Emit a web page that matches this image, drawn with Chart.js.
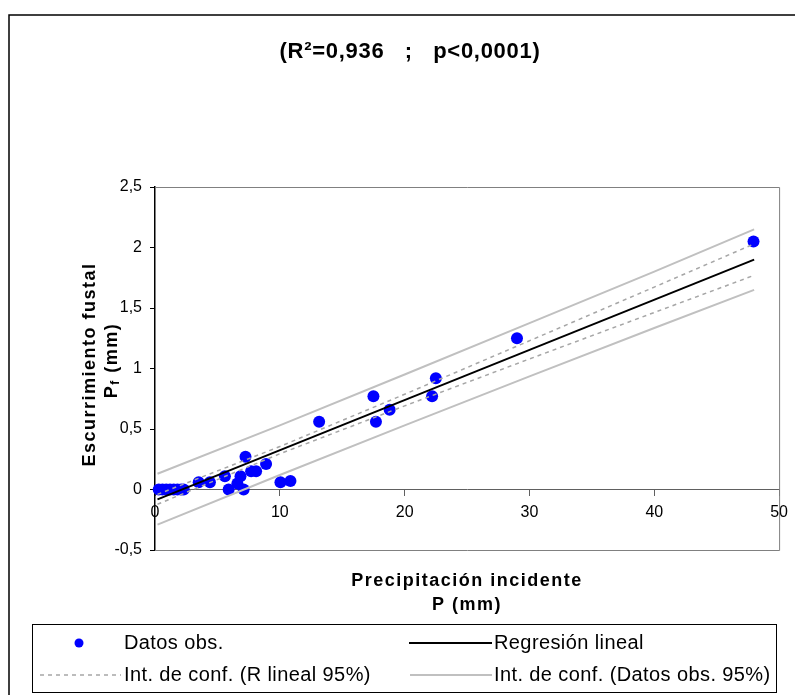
<!DOCTYPE html>
<html>
<head>
<meta charset="utf-8">
<title>Escurrimiento fustal vs precipitación incidente</title>
<script src="https://cdn.jsdelivr.net/npm/chart.js@4.4.1/dist/chart.umd.min.js"></script>
<style>
  body { margin: 0; background: #fff; }
  canvas { display: block; }
</style>
</head>
<body>
<canvas id="chart" width="795" height="695"></canvas>
<script>
// Observed events: incident rainfall P (mm) and stemflow Pf (mm)
const obsX = [0.3, 0.6, 0.9, 1.2, 1.5, 1.8, 2.1, 2.3,
              3.5, 4.4, 5.6, 5.9, 6.6, 6.85, 7.1, 7.25, 7.7, 8.1, 8.9,
              10.05, 10.85, 13.15, 17.5, 17.7, 18.8, 22.2, 22.5, 29.0, 47.95];
const obsY = [0, 0, 0, 0, 0, 0, 0, 0,
              0.06, 0.06, 0.11, 0, 0.05, 0.11, 0, 0.27, 0.15, 0.15, 0.21,
              0.06, 0.07, 0.56, 0.77, 0.56, 0.66, 0.77, 0.92, 1.25, 2.05];

// Fitted regression line
const regX = [0.2, 48];
const regY = [-0.082, 1.90];

// 95% bands read at a few P values
const bandX = [0.2, 10, 20, 30, 40, 48];
const confUpper = [-0.04, 0.355, 0.787, 1.229, 1.673, 2.03];
const confLower = [-0.122, 0.295, 0.691, 1.079, 1.463, 1.77];
const predUpper = [0.13, 0.53, 0.95, 1.375, 1.80, 2.15];
const predLower = [-0.29, 0.12, 0.53, 0.935, 1.335, 1.65];

// Tick labels (decimal comma)
const xTickLabels = ['0', '10', '20', '30', '40', '50'];
const yTickLabels = ['-0,5', '0', '0,5', '1', '1,5', '2', '2,5'];

const FONT = '"Liberation Sans", Arial, sans-serif';

function toPoints(xs, ys) {
    return xs.map((x, i) => ({ x: x, y: ys[i] }));
}

// Frame, titles and the boxed two-column legend
const decorPlugin = {
    id: 'decor',
    beforeDatasetsDraw(chart) {
        const { ctx, chartArea: a } = chart;
        ctx.save();
        ctx.strokeStyle = '#808080';
        ctx.lineWidth = 1;
        ctx.beginPath();
        ctx.moveTo(a.left, a.top + 0.5);
        ctx.lineTo(a.right + 0.5, a.top + 0.5);
        ctx.lineTo(a.right + 0.5, a.bottom + 0.5);
        ctx.lineTo(a.left, a.bottom + 0.5);
        ctx.stroke();
        ctx.restore();
    },
    afterDraw(chart) {
        const { ctx, chartArea: a } = chart;
        const ds = chart.data.datasets;
        ctx.save();

        // outer border
        ctx.strokeStyle = '#000';
        ctx.lineWidth = 1.5;
        ctx.beginPath();
        ctx.moveTo(9, 695);
        ctx.lineTo(9, 15);
        ctx.lineTo(795, 15);
        ctx.stroke();

        // title
        ctx.fillStyle = '#000';
        ctx.textAlign = 'center';
        ctx.textBaseline = 'middle';
        ctx.font = 'bold 22px ' + FONT;
        ctx.letterSpacing = '0.7px';
        ctx.fillText('(R²=0,936   ;   p<0,0001)', 410, 52);

        // x axis title
        const cx = (a.left + a.right) / 2;
        ctx.font = 'bold 18px ' + FONT;
        ctx.letterSpacing = '1.5px';
        ctx.fillText('Precipitación incidente', cx, 581);
        ctx.fillText('P (mm)', cx, 605);

        // y axis title, rotated, with subscript f
        const cy = (a.top + a.bottom) / 2;
        ctx.save();
        ctx.translate(90, cy - 4);
        ctx.rotate(-Math.PI / 2);
        ctx.fillText('Escurrimiento fustal', 0, 0);
        ctx.restore();

        ctx.save();
        ctx.translate(112, cy - 8);
        ctx.rotate(-Math.PI / 2);
        ctx.textAlign = 'left';
        const wP = ctx.measureText('P').width;
        ctx.font = 'bold 12px ' + FONT;
        const wF = ctx.measureText('f').width;
        ctx.font = 'bold 18px ' + FONT;
        const wRest = ctx.measureText(' (mm)').width;
        let x0 = -(wP + wF + wRest) / 2;
        ctx.fillText('P', x0, 0);
        ctx.font = 'bold 12px ' + FONT;
        ctx.fillText('f', x0 + wP, 4);
        ctx.font = 'bold 18px ' + FONT;
        ctx.fillText(' (mm)', x0 + wP + wF, 0);
        ctx.restore();

        // legend box
        ctx.strokeStyle = '#000';
        ctx.lineWidth = 1;
        ctx.strokeRect(32.5, 624.5, 744, 68);

        ctx.font = '20px ' + FONT;
        ctx.letterSpacing = '0.4px';
        ctx.textAlign = 'left';
        const row1 = 643, row2 = 675;

        ctx.fillStyle = ds[0].backgroundColor;
        ctx.beginPath();
        ctx.arc(79, row1, 4.5, 0, Math.PI * 2);
        ctx.fill();

        drawSample(ctx, 409, 492, row1, ds[1]);
        drawSample(ctx, 40, 121, row2, ds[2]);
        drawSample(ctx, 410, 492, row2, ds[4]);

        ctx.fillStyle = '#000';
        ctx.fillText(ds[0].label, 124, row1);
        ctx.fillText(ds[1].label, 494, row1);
        ctx.fillText(ds[2].label, 124, row2);
        ctx.fillText(ds[4].label, 494, row2);
        ctx.restore();
    }
};

function drawSample(ctx, x1, x2, y, d) {
    ctx.save();
    ctx.strokeStyle = d.borderColor;
    ctx.lineWidth = d.borderWidth;
    ctx.setLineDash(d.borderDash || []);
    ctx.beginPath();
    ctx.moveTo(x1, y);
    ctx.lineTo(x2, y);
    ctx.stroke();
    ctx.restore();
}

const lineStyle = { showLine: true, pointRadius: 0, fill: false, tension: 0 };

new Chart(document.getElementById('chart'), {
    type: 'scatter',
    data: {
        datasets: [
            {
                label: 'Datos obs.',
                data: toPoints(obsX, obsY),
                backgroundColor: '#0000ff',
                borderWidth: 0,
                pointRadius: 6,
                clip: false,
                order: 10
            },
            Object.assign({
                label: 'Regresión lineal',
                data: toPoints(regX, regY),
                borderColor: '#000',
                borderWidth: 2,
                order: 1
            }, lineStyle),
            Object.assign({
                label: 'Int. de conf. (R lineal 95%)',
                data: toPoints(bandX, confUpper),
                borderColor: '#a6a6a6',
                borderWidth: 1.5,
                borderDash: [4, 4],
                order: 2
            }, lineStyle),
            Object.assign({
                label: 'Int. de conf. (R lineal 95%) inf.',
                data: toPoints(bandX, confLower),
                borderColor: '#a6a6a6',
                borderWidth: 1.5,
                borderDash: [4, 4],
                order: 2
            }, lineStyle),
            Object.assign({
                label: 'Int. de conf. (Datos obs. 95%)',
                data: toPoints(bandX, predUpper),
                borderColor: '#c0c0c0',
                borderWidth: 2,
                order: 3
            }, lineStyle),
            Object.assign({
                label: 'Int. de conf. (Datos obs. 95%) inf.',
                data: toPoints(bandX, predLower),
                borderColor: '#c0c0c0',
                borderWidth: 2,
                order: 3
            }, lineStyle)
        ]
    },
    options: {
        responsive: false,
        animation: false,
        layout: { padding: { left: 100, right: 15, top: 187, bottom: 145 } },
        plugins: {
            legend: { display: false },
            tooltip: { enabled: false }
        },
        scales: {
            x: {
                type: 'linear',
                position: { y: 0 },
                min: 0,
                max: 50,
                grid: { drawOnChartArea: false, tickLength: 6, color: '#606060' },
                border: { color: '#606060', width: 1 },
                ticks: {
                    stepSize: 10,
                    autoSkip: false,
                    maxRotation: 0,
                    padding: 7,
                    color: '#000',
                    font: { family: FONT, size: 16 },
                    callback: (v, i) => xTickLabels[i]
                }
            },
            y: {
                type: 'linear',
                position: 'left',
                min: -0.5,
                max: 2.5,
                afterFit: (scale) => { scale.width = 55; },
                grid: { drawOnChartArea: false, tickLength: 5, color: '#000' },
                border: { color: '#000', width: 1.5 },
                ticks: {
                    stepSize: 0.5,
                    autoSkip: false,
                    padding: 8,
                    color: '#000',
                    font: { family: FONT, size: 16 },
                    callback: (v, i) => yTickLabels[i]
                }
            }
        }
    },
    plugins: [decorPlugin]
});
</script>
</body>
</html>
